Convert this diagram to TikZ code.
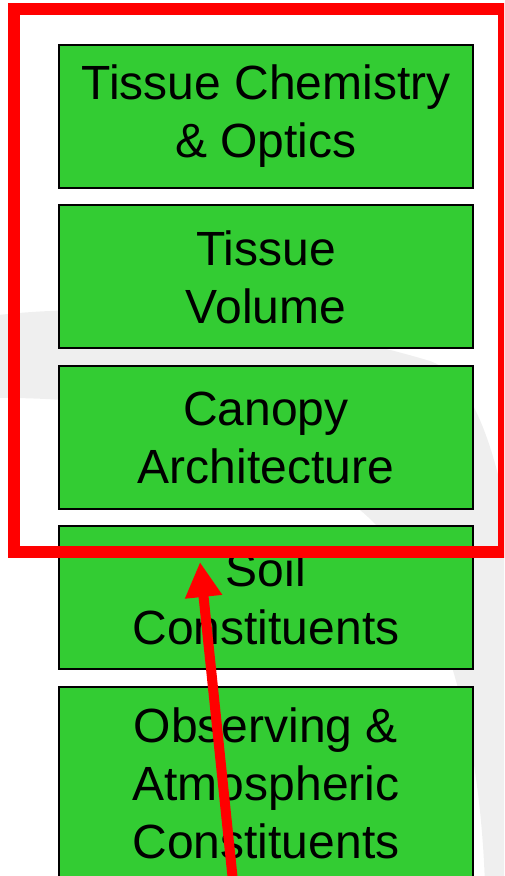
\documentclass[tikz,border=0pt]{standalone}
\usepackage{fontspec}
\setmainfont{Liberation Sans}
\usepackage{xcolor}
\usetikzlibrary{positioning,arrows.meta}

\definecolor{leafgreen}{RGB}{51,204,51}
\definecolor{markred}{RGB}{255,0,0}
\definecolor{swoosh}{RGB}{239,239,239}

\begin{document}
\begin{tikzpicture}[
      x=1pt, y=1pt,
      layer/.style={draw, line width=2pt, fill=leafgreen, minimum width=414pt, minimum height=143pt, align=center, inner sep=0pt, font=\fontsize{48}{58}\selectfont},
      redframe/.style={draw=markred, line width=12pt},
      pointer/.style={-{Triangle[length=35pt,width=35pt]}, line width=10pt, draw=markred},
      node distance=15.5pt
  ]
    \clip (0,0) rectangle (504,876);
    % faint swoosh behind the stack
    \fill[swoosh] (-10,560) .. controls (150,580) and (330,545) .. (430,515)
      .. controls (500,490) and (530,300) .. (540,-10) -- (485,-10)
      .. controls (480,150) and (440,300) .. (360,366)
      .. controls (300,440) and (150,480) .. (-10,478) -- cycle;

    \node[layer] (chem) at (266,759.5) {Tissue Chemistry\\\& Optics};
    \node[layer, below=of chem] (volume) {Tissue\\Volume};
    \node[layer, below=of volume] (canopy) {Canopy\\Architecture};
    \node[layer, below=of canopy] (soil) {Soil\\Constituents};
    \node[layer, below=of soil, minimum height=192pt] (atmos) {Observing \&\\Atmospheric\\Constituents};

    \draw[redframe] (14,867) rectangle (504,323.5);

    \coordinate (tail) at (234.5,-20);
    \coordinate (tip) at (200,314);
    \draw[pointer] (tail) -- (tip);
  \end{tikzpicture}
\end{document}
